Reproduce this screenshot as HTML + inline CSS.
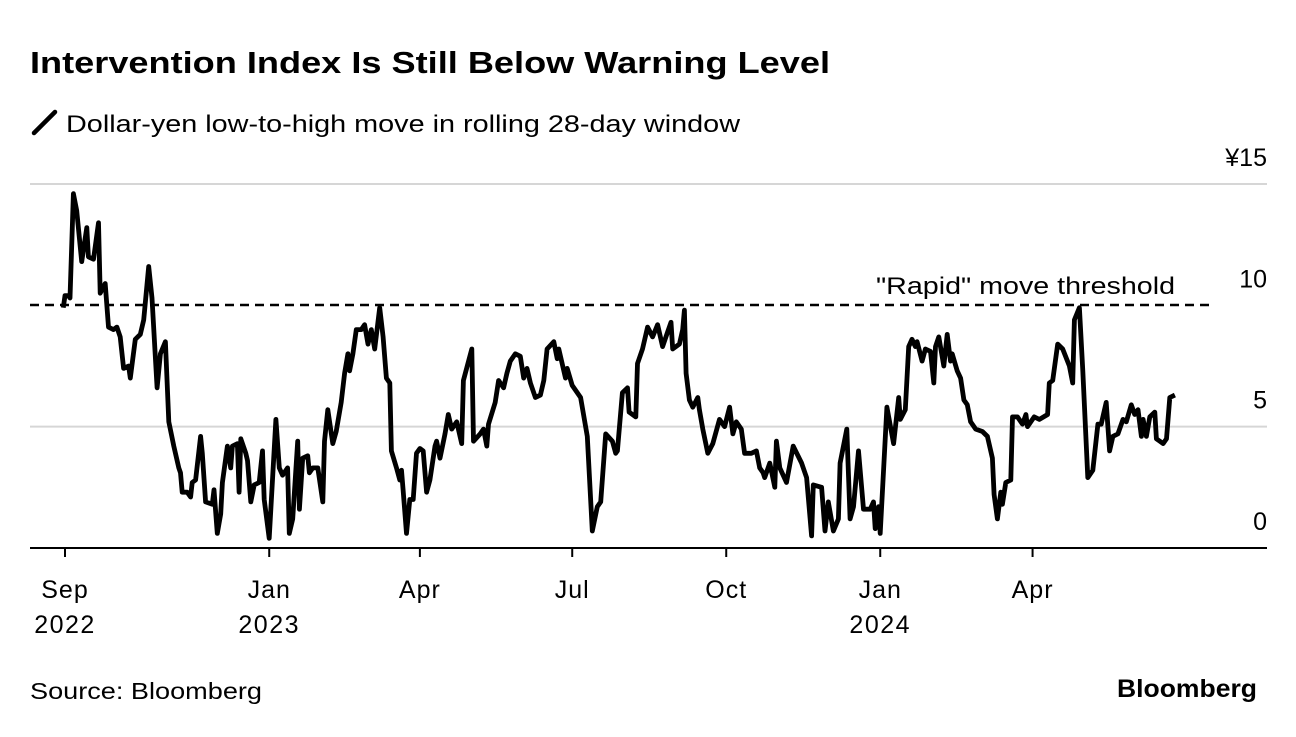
<!DOCTYPE html>
<html><head><meta charset="utf-8">
<style>
body{margin:0;background:#fff;width:1296px;height:732px;overflow:hidden;font-family:"Liberation Sans",Arial,sans-serif;}
svg text{font-family:"Liberation Sans",Arial,sans-serif;}
</style></head>
<body>
<svg id="chart" width="1296" height="732" viewBox="0 0 1296 732" xmlns="http://www.w3.org/2000/svg">
<text x="30" y="73" font-size="31" font-weight="bold" fill="#000" textLength="800" lengthAdjust="spacingAndGlyphs">Intervention Index Is Still Below Warning Level</text>
<line x1="34" y1="133" x2="55" y2="112" stroke="#000" stroke-width="4.5" stroke-linecap="round"/>
<text x="66" y="132" font-size="24" fill="#000" textLength="674" lengthAdjust="spacingAndGlyphs">Dollar-yen low-to-high move in rolling 28-day window</text>
<g id="grid"></g>
<g id="yLabels"></g>
<line x1="30" y1="305" x2="1210" y2="305" stroke="#000" stroke-width="2.5" stroke-dasharray="9,6"/>
<text x="876" y="294" font-size="24" fill="#000" textLength="299" lengthAdjust="spacingAndGlyphs">"Rapid" move threshold</text>
<path id="series" fill="none" stroke="#000" stroke-width="4.8" stroke-linejoin="round"/>
<line x1="30" y1="548" x2="1267" y2="548" stroke="#000" stroke-width="2"/>
<g id="xTicks"></g>
<text x="30" y="699" font-size="23" fill="#000" textLength="232" lengthAdjust="spacingAndGlyphs">Source: Bloomberg</text>
<text x="1117" y="697" font-size="25" font-weight="bold" fill="#000" textLength="140" lengthAdjust="spacingAndGlyphs">Bloomberg</text>
</svg>
<script>
const days=[-1,0,2,3,5,7,10,13,14,17,20,21,24,26,29,31,33,35,38,39,42,45,47,50,52,55,57,60,62,65,68,69,70,73,75,76,78,81,82,84,88,89,91,93,94,97,99,100,103,104,105,108,109,111,113,116,118,119,122,126,128,130,133,134,136,139,140,142,145,146,148,151,154,155,157,160,162,165,167,169,170,172,174,177,179,181,183,185,188,190,192,194,195,198,200,201,202,204,206,208,210,212,214,216,218,221,222,224,227,229,231,234,237,238,243,244,248,250,252,253,257,259,262,264,266,269,272,274,276,278,281,284,286,288,292,294,295,299,300,303,308,312,315,318,320,323,327,329,330,333,336,337,341,342,345,348,351,354,357,360,362,363,367,369,370,371,373,375,378,379,381,384,387,391,394,397,399,401,404,406,410,413,415,417,418,421,424,425,427,431,435,440,443,446,447,452,454,456,459,462,463,467,469,471,474,477,481,483,484,486,487,491,495,498,499,502,504,506,508,509,512,514,517,519,520,522,525,527,529,530,533,535,537,539,541,544,548,551,554,555,557,559,560,562,565,566,569,572,574,575,579,582,587,588,590,593,596,600,602,603,606,608,611,614,617,619,622,624,626,629,632,634,637,639,641,643,644,646,648,651,652,654,656,658,660,663];
const values=[9.9,10.4,10.4,10.3,14.6,13.9,11.8,13.2,12.0,11.9,13.4,10.5,10.9,9.1,9.0,9.1,8.7,7.4,7.5,7.0,8.6,8.8,9.4,11.6,10.3,6.6,8.0,8.5,5.2,4.2,3.3,3.1,2.3,2.3,2.1,2.7,2.8,4.6,3.9,1.9,1.8,2.4,0.6,1.4,2.7,4.2,3.3,4.2,4.3,2.3,4.5,3.9,3.6,1.9,2.6,2.7,4.0,2.0,0.4,5.3,3.3,3.0,3.3,0.6,1.2,4.4,1.6,3.7,3.8,3.1,3.3,3.3,1.9,4.4,5.7,4.3,4.8,6.0,7.2,8.0,7.3,8.0,9.0,9.0,9.2,8.4,9.0,8.2,9.9,8.7,7.0,6.8,4.0,3.3,2.8,3.2,2.4,0.6,2.0,2.0,3.9,4.1,4.0,2.3,2.8,4.2,4.4,3.7,4.7,5.5,4.9,5.2,4.3,6.9,8.2,4.4,4.7,4.9,4.2,5.1,6.0,6.9,6.6,7.2,7.7,8.0,7.9,7.0,7.4,6.8,6.2,6.3,6.9,8.2,8.5,7.8,8.2,7.0,7.4,6.7,6.2,4.6,0.7,1.7,1.9,4.7,4.4,3.9,4.0,6.4,6.6,5.6,5.4,7.6,8.2,9.1,8.7,9.2,8.3,8.9,9.3,8.2,8.4,9.0,9.8,7.2,6.1,5.8,6.2,5.7,4.9,3.9,4.3,5.3,5.0,5.8,4.7,5.2,4.9,3.9,3.9,4.0,3.3,3.1,2.9,3.5,2.5,4.4,3.3,2.7,4.2,3.5,2.9,0.5,2.6,2.5,0.7,1.9,0.7,1.2,3.5,4.9,1.2,1.7,4.0,1.6,1.6,1.9,0.8,1.7,0.6,5.8,4.3,6.2,5.3,5.7,8.3,8.6,8.3,8.5,7.7,8.2,8.1,6.8,8.3,8.7,7.5,8.8,7.7,8.0,7.3,7.0,6.1,5.9,5.2,4.9,4.8,4.6,3.7,2.2,1.2,2.3,1.8,2.7,2.8,5.4,5.4,5.1,5.5,5.0,5.4,5.3,5.5,6.8,6.9,8.4,8.2,7.5,6.8,9.4,9.9,7.3,2.9,3.2,5.1,5.1,6.0,4.0,4.6,4.7,5.3,5.2,5.9,5.5,5.7,4.6,5.3,4.6,5.4,5.6,4.5,4.4,4.3,4.5,6.2,6.3];
const yTicks=[0,5,10,15];
const yTickLabels=["0","5","10","¥15"];
const xTickDays=[0,122,212,303,395,487,578];
const xTickLine1=["Sep","Jan","Apr","Jul","Oct","Jan","Apr"];
const xTickLine2=["2022","2023","","","","2024",""];

const NS="http://www.w3.org/2000/svg";
function xScale(d){return 65+d*1.674;}
function yScale(v){return 548-v*24.27;}
const grid=document.getElementById('grid'),yl=document.getElementById('yLabels'),xt=document.getElementById('xTicks');
yTicks.forEach((t,i)=>{
  if(t!==0&&t!==10){
    const l=document.createElementNS(NS,'line');
    
    
    l.setAttribute('x1',30);l.setAttribute('x2',1267);
    l.setAttribute('y1',yScale(t));l.setAttribute('y2',yScale(t));
    l.setAttribute('stroke','#d6d6d6');l.setAttribute('stroke-width','2');
    grid.appendChild(l);
  }
  const tx=document.createElementNS(NS,'text');
  
  
  tx.setAttribute('x',1267);tx.setAttribute('y',yScale(t)-18);
  tx.setAttribute('text-anchor','end');tx.setAttribute('font-size','25');
  tx.textContent=yTickLabels[i];
  yl.appendChild(tx);
});
xTickDays.forEach((d,i)=>{
  const x=xScale(d);
  const l=document.createElementNS(NS,'line');
  
  
  l.setAttribute('x1',x);l.setAttribute('x2',x);l.setAttribute('y1',548);l.setAttribute('y2',557);
  l.setAttribute('stroke','#000');l.setAttribute('stroke-width','2');
  xt.appendChild(l);
  const t1=document.createElementNS(NS,'text');
  
  
  t1.setAttribute('x',x);t1.setAttribute('y',598);t1.setAttribute('text-anchor','middle');t1.setAttribute('font-size','25');
  t1.setAttribute('letter-spacing','1');
  t1.textContent=xTickLine1[i];xt.appendChild(t1);
  if(xTickLine2[i]){
    const t2=document.createElementNS(NS,'text');
    
    
    t2.setAttribute('x',x);t2.setAttribute('y',633);t2.setAttribute('text-anchor','middle');t2.setAttribute('font-size','25');
    t2.setAttribute('letter-spacing','1.5');
    t2.textContent=xTickLine2[i];xt.appendChild(t2);
  }
});
let dstr='';
days.forEach((d,i)=>{dstr+=(i?'L':'M')+xScale(d).toFixed(1)+','+yScale(values[i]).toFixed(1);});
document.getElementById('series').setAttribute('d',dstr);
</script>
</body></html>
